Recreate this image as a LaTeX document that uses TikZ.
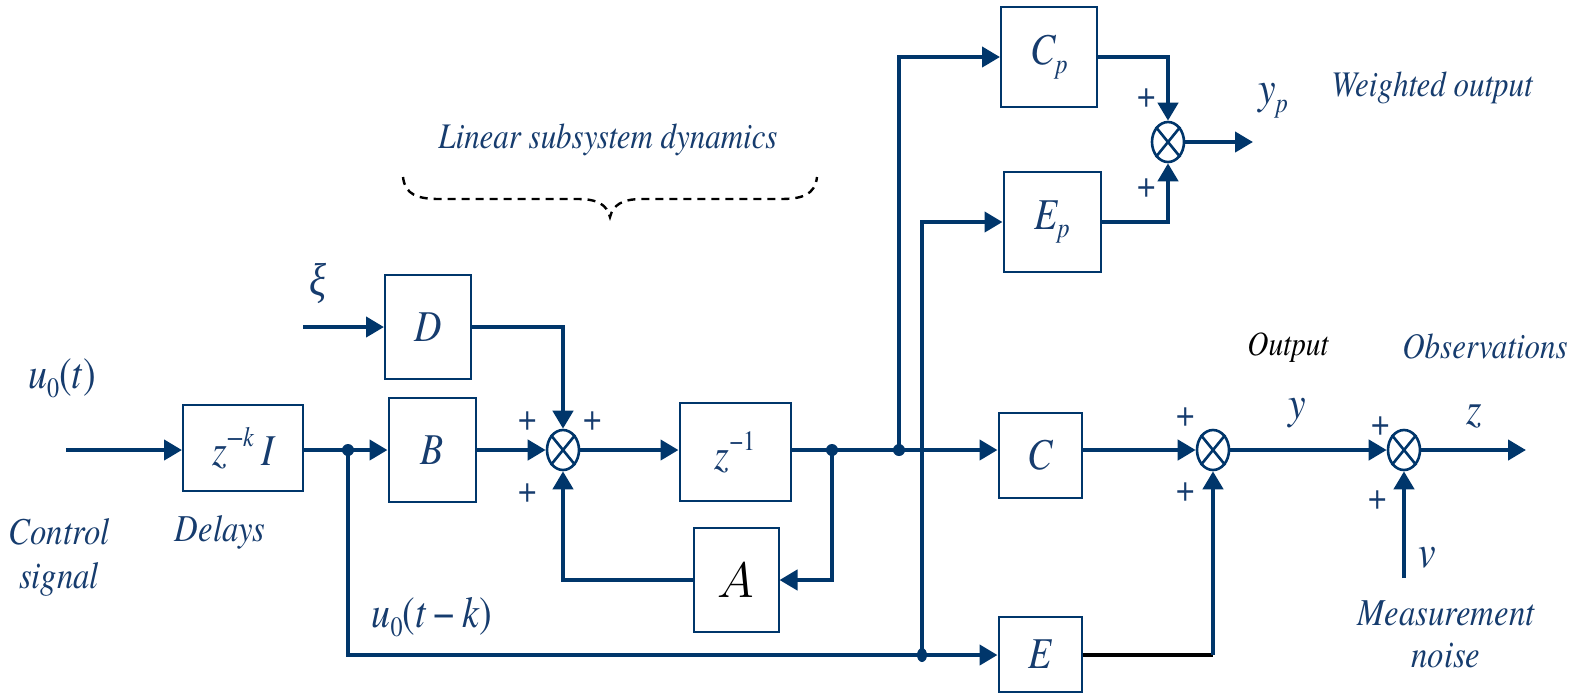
\documentclass[tikz,border=0pt]{standalone}
\usepackage{fontspec}
\setmainfont{texgyretermes}[Extension=.otf,UprightFont=*-regular,ItalicFont=*-italic,BoldFont=*-bold,BoldItalicFont=*-bolditalic,FakeStretch=0.86]
\newfontfamily\grk{Liberation Serif}[FakeStretch=0.86]
\usetikzlibrary{arrows.meta,shapes.geometric}
\definecolor{ln}{RGB}{0,54,107}
\definecolor{tx}{RGB}{22,60,110}
\newcommand{\fs}[1]{\fontsize{#1}{#1}\selectfont}
\newcommand{\mysub}[1]{\raisebox{-0.45ex}{\fs{14}#1}}
\newcommand{\mysup}[1]{\raisebox{1.0ex}{\fs{14}#1}}
\begin{document}
\begin{tikzpicture}[x=0.5pt,y=-0.5pt,
 blk/.style={draw=ln,line width=1pt,fill=white,inner sep=0pt,font=\rmfamily\fs{22}\itshape,text=tx},
 sumnode/.style={draw=ln,ellipse,line width=1.3pt,minimum width=16pt,minimum height=20pt,inner sep=0pt},
 wire/.style={draw=ln,line width=2.1pt},
 arr/.style={wire,-{Triangle[length=9pt,width=10pt]}},
 jdot/.style={circle,fill=ln,minimum size=6pt,inner sep=0pt},
 lbl/.style={text=tx,font=\rmfamily\fs{19}\itshape,inner sep=0pt},
 pl/.style={text=tx,font=\rmfamily\fs{19},inner sep=0pt},
]
\fill[white] (0,0) rectangle (1586,693);
\useasboundingbox (0,0) rectangle (1586,693);

% blocks
\node[blk,minimum width=60pt,minimum height=43pt] (zk) at (243,448) {\textit{z}\mysup{−\textit{k}}\,\textit{I}};
\node[blk,minimum width=43pt,minimum height=52pt] (D) at (428,327) {D};
\node[blk,minimum width=43.5pt,minimum height=52pt] (B) at (432,450) {B};
\node[blk,minimum width=55.5pt,minimum height=49pt] (z1) at (735,452) {\textit{z}\mysup{\upshape −1}};
\node[blk,minimum width=42.5pt,minimum height=52pt,text=black] (A) at (736,580) {\fs{23}$A$};
\node[blk,minimum width=48pt,minimum height=50pt] (Cp) at (1049,57) {C\mysub{\textit{p}}};
\node[blk,minimum width=48.5pt,minimum height=50pt] (Ep) at (1052,222) {E\mysub{\textit{p}}};
\node[blk,minimum width=41.5pt,minimum height=42.5pt] (C) at (1040,455) {C};
\node[blk,minimum width=41.5pt,minimum height=37.5pt] (E) at (1040,654) {E};

% summing junctions
\node[sumnode] (s1) at (563,450) {};
\node[sumnode] (s2) at (1168,142) {};
\node[sumnode] (s3) at (1213,450) {};
\node[sumnode] (s4) at (1404,450) {};
\foreach \s in {s1,s2,s3,s4}{
  \draw[ln,line width=1.3pt] (\s.north west) -- (\s.south east) (\s.north east) -- (\s.south west);
}

% junction dots and free ends
\node[jdot] (j1) at (348,450) {};
\node[jdot] (j2) at (832,450) {};
\node[jdot] (j3) at (899,450) {};
\node[jdot,minimum width=5pt,minimum height=7pt,ellipse] (j4) at (922,655) {};
\coordinate (in0) at (66,450);
\coordinate (xi0) at (303,327);
\coordinate (bl) at (348,655);
\coordinate (ypo) at (1253,142);
\coordinate (zo) at (1526,450);
\coordinate (v0) at (1404,578);

% connectors
\draw[arr] (in0) -- (zk.west |- in0);
\draw[wire] (zk.east |- j1) -- (j1.center);
\draw[arr] (j1.center) -- (B.west |- j1);
\draw[wire] (j1.center) -- (bl) -- (j4.center);
\draw[arr] (j4.center) -- (E.west |- j4);
\draw[arr] (xi0) -- (D.west);
\draw[arr] (D.east) -| (s1.north);
\draw[arr] (B.east |- s1) -- (s1.west);
\draw[arr] (s1.east) -- (z1.west |- s1);
\draw[wire] (z1.east |- j2) -- (j2.center) -- (j3.center);
\draw[arr] (j3.center) -- (C.west |- j3);
\draw[arr] (j2.center) |- (A.east);
\draw[arr] (A.west) -| (s1.south);
\draw[arr] (j3.center) |- (Cp.west);
\draw[arr] (j4.center) |- (Ep.west);
\draw[arr] (Cp.east) -| (s2.north);
\draw[arr] (Ep.east) -| (s2.south);
\draw[arr] (s2.east) -- (ypo);
\draw[arr] (C.east |- s3) -- (s3.west);
\draw[black,line width=2.1pt] (E.east |- j4) -- (s3 |- j4);
\draw[arr] (s3 |- j4) -- (s3.south);
\draw[arr] (s3.east) -- (s4.west);
\draw[arr] (v0) -- (s4.south);
\draw[arr] (s4.east) -- (zo);

% plus signs
\foreach \p in {(528,421),(593,421),(528,493),(1147,98),(1147,188),(1186,417),(1186,492),(1381,426),(1378,500)}{
  \node[pl] at \p {+};
}

% labels
\node[lbl,font=\rmfamily\fs{18}\itshape] (lsd) at (608,140) {Linear subsystem dynamics};
\draw[black,line width=1.2pt,dash pattern=on 4pt off 3pt]
  (403,177) .. controls (405,195) and (418,199) .. (440,199) -- (578,199)
  .. controls (598,199) and (607,205) .. (610,217)
  .. controls (613,205) and (622,199) .. (642,199) -- (780,199)
  .. controls (802,199) and (815,195) .. (817,177);
\node[lbl,font=\grk\fs{23}\itshape] (xi) at (318,283) {ξ};
\node[lbl,font=\rmfamily\fs{22}] (u0t) at (62,378) {\textit{u}\mysub{0}(\textit{t})};
\node[lbl,align=center] (ctl) at (59,557) {Control\\[3pt]signal};
\node[lbl] (del) at (220,532) {Delays};
\node[lbl,font=\rmfamily\fs{22}] (u0tk) at (432,617) {\textit{u}\mysub{0}(\textit{t}\,−\,\textit{k})};
\node[lbl,font=\rmfamily\fs{23}\itshape] (yp) at (1273,101) {y\mysub{\textit{p}}};
\node[lbl,font=\rmfamily\fs{18}\itshape] (wo) at (1432,88) {Weighted output};
\node[lbl,font=\rmfamily\fs{17}\itshape,text=black] (outl) at (1288,348) {Output};
\node[lbl,font=\rmfamily\fs{18}\itshape] (obs) at (1485,347) {Observations};
\node[lbl,font=\rmfamily\fs{23}\itshape] (yl) at (1297,413) {y};
\node[lbl,font=\rmfamily\fs{23}\itshape] (zl) at (1474,417) {z};
\node[lbl,font=\rmfamily\fs{23}\itshape] (vl) at (1427,558) {v};
\node[lbl,align=center] (mn) at (1446,634) {Measurement\\[2pt]noise};
\end{tikzpicture}
\end{document}
